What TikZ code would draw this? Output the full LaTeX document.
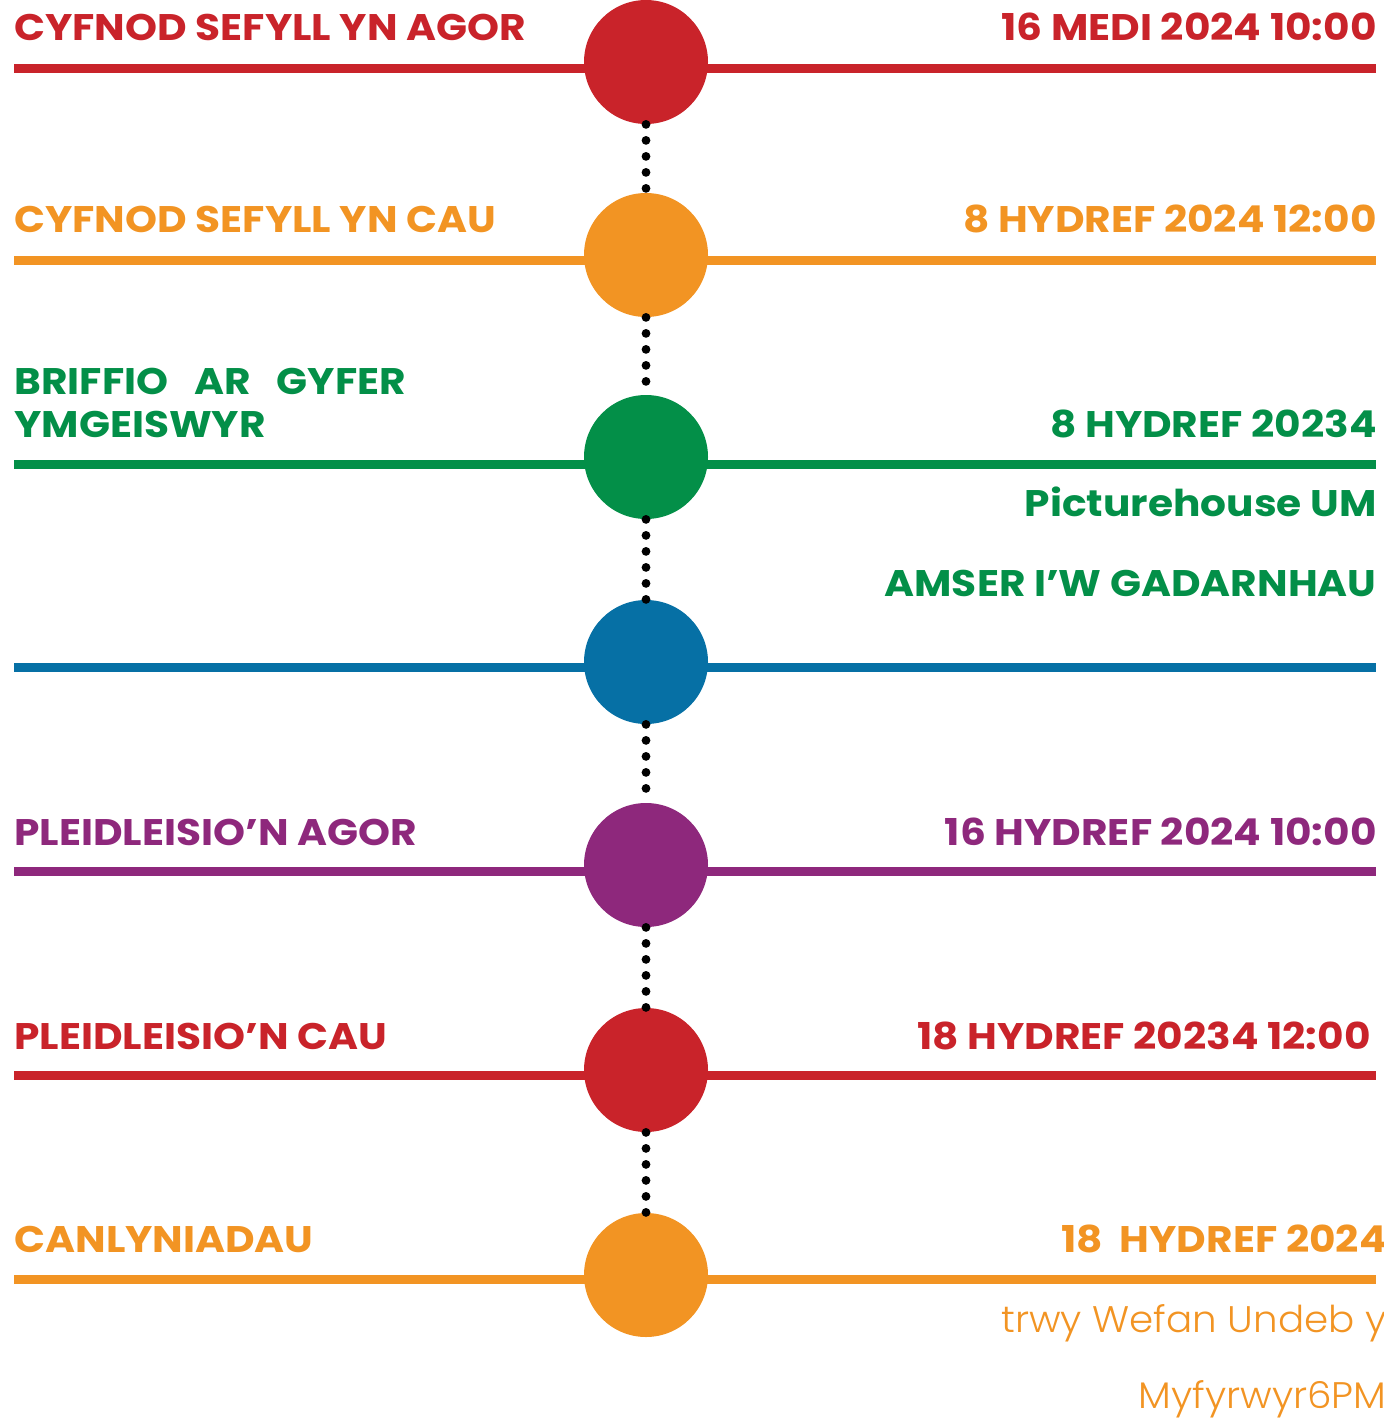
\documentclass[tikz,border=0pt]{standalone}
\usepackage{fontspec}
\setmainfont{Poppins}[BoldFeatures={FakeStretch=1.1}]
\newfontfamily\lightfont{Poppins Light}[FakeStretch=1.05]
\definecolor{cred}{HTML}{C9232A}
\definecolor{corange}{HTML}{F29423}
\definecolor{cgreen}{HTML}{038F48}
\definecolor{cblue}{HTML}{0670A5}
\definecolor{cpurple}{HTML}{8E287C}
\begin{document}
\begin{tikzpicture}[x=0.5pt,y=-0.5pt,
  stopdot/.style={circle,minimum size=62pt,inner sep=0pt,draw=none,fill=#1},
  rule/.style={line width=4.5pt,draw=#1},
  dotline/.style={line width=4.4pt,line cap=round,dash pattern=on 0pt off 8pt,draw=black},
  lbl/.style={inner sep=0pt,anchor=base west,text=#1,font=\fontsize{18.5}{22}\selectfont\bfseries},
  rlbl/.style={inner sep=0pt,anchor=base east,text=#1,font=\fontsize{18.5}{22}\selectfont\bfseries},
  light/.style={inner sep=0pt,anchor=base east,text=#1,font=\fontsize{18.5}{22}\selectfont\lightfont}]
\useasboundingbox (0,0) rectangle (1384,1419);
% horizontal rules
\coordinate (l1) at (14,68);   \coordinate (r1) at (1376,68);
\coordinate (l2) at (14,260);  \coordinate (r2) at (1376,260);
\coordinate (l3) at (14,464);  \coordinate (r3) at (1376,464);
\coordinate (l4) at (14,667);  \coordinate (r4) at (1376,667);
\coordinate (l5) at (14,871);  \coordinate (r5) at (1376,871);
\coordinate (l6) at (14,1075); \coordinate (r6) at (1376,1075);
\coordinate (l7) at (14,1279); \coordinate (r7) at (1376,1279);
\draw[rule=cred] (l1) -- (r1);
\draw[rule=corange] (l2) -- (r2);
\draw[rule=cgreen] (l3) -- (r3);
\draw[rule=cblue] (l4) -- (r4);
\draw[rule=cpurple] (l5) -- (r5);
\draw[rule=cred] (l6) -- (r6);
\draw[rule=corange] (l7) -- (r7);
% circles
\node[stopdot=cred] (c1) at (646,62) {};
\node[stopdot=corange] (c2) at (646,255) {};
\node[stopdot=cgreen] (c3) at (646,457) {};
\node[stopdot=cblue] (c4) at (646,662) {};
\node[stopdot=cpurple] (c5) at (646,865) {};
\node[stopdot=cred] (c6) at (646,1070) {};
\node[stopdot=corange] (c7) at (646,1275) {};
% dotted connectors
\draw[dotline] (c1.south) -- (c2.north);
\draw[dotline] (c2.south) -- (c3.north);
\draw[dotline] (c3.south) -- (c4.north);
\draw[dotline] (c4.south) -- (c5.north);
\draw[dotline] (c5.south) -- (c6.north);
\draw[dotline] (c6.south) -- (c7.north);
% left labels
\node[lbl=cred] (t1) at (14,40) {CYFNOD SEFYLL YN AGOR};
\node[lbl=corange] (t2) at (14,232) {CYFNOD SEFYLL YN CAU};
\node[lbl=cgreen] (t3a) at (14,394) {BRIFFIO\hspace{13pt}AR\hspace{13pt}GYFER};
\node[lbl=cgreen] (t3b) at (14,437) {YMGEISWYR};
\node[lbl=cpurple] (t5) at (14,845) {PLEIDLEISIO’N AGOR};
\node[lbl=cred] (t6) at (14,1049) {PLEIDLEISIO’N CAU};
\node[lbl=corange] (t7) at (14,1252) {CANLYNIADAU};
% right labels
\node[rlbl=cred] (d1) at (1377,40) {16 MEDI 2024 10:00};
\node[rlbl=corange] (d2) at (1377,232) {8 HYDREF 2024 12:00};
\node[rlbl=cgreen] (d3) at (1377,437) {8 HYDREF 20234};
\node[rlbl=cgreen] (d3b) at (1377,516) {Picturehouse UM};
\node[rlbl=cgreen] (d3c) at (1377,596) {AMSER I’W GADARNHAU};
\node[rlbl=cpurple] (d5) at (1377,845) {16 HYDREF 2024 10:00};
\node[rlbl=cred] (d6) at (1371,1049) {18 HYDREF 20234 12:00};
\node[rlbl=corange] (d7) at (1387,1252) {18\ \ HYDREF 2024};
\node[light=corange] (d7b) at (1387,1332) {trwy Wefan Undeb y};
\node[light=corange] (d7c) at (1387,1408) {Myfyrwyr6PM};
\end{tikzpicture}
\end{document}
